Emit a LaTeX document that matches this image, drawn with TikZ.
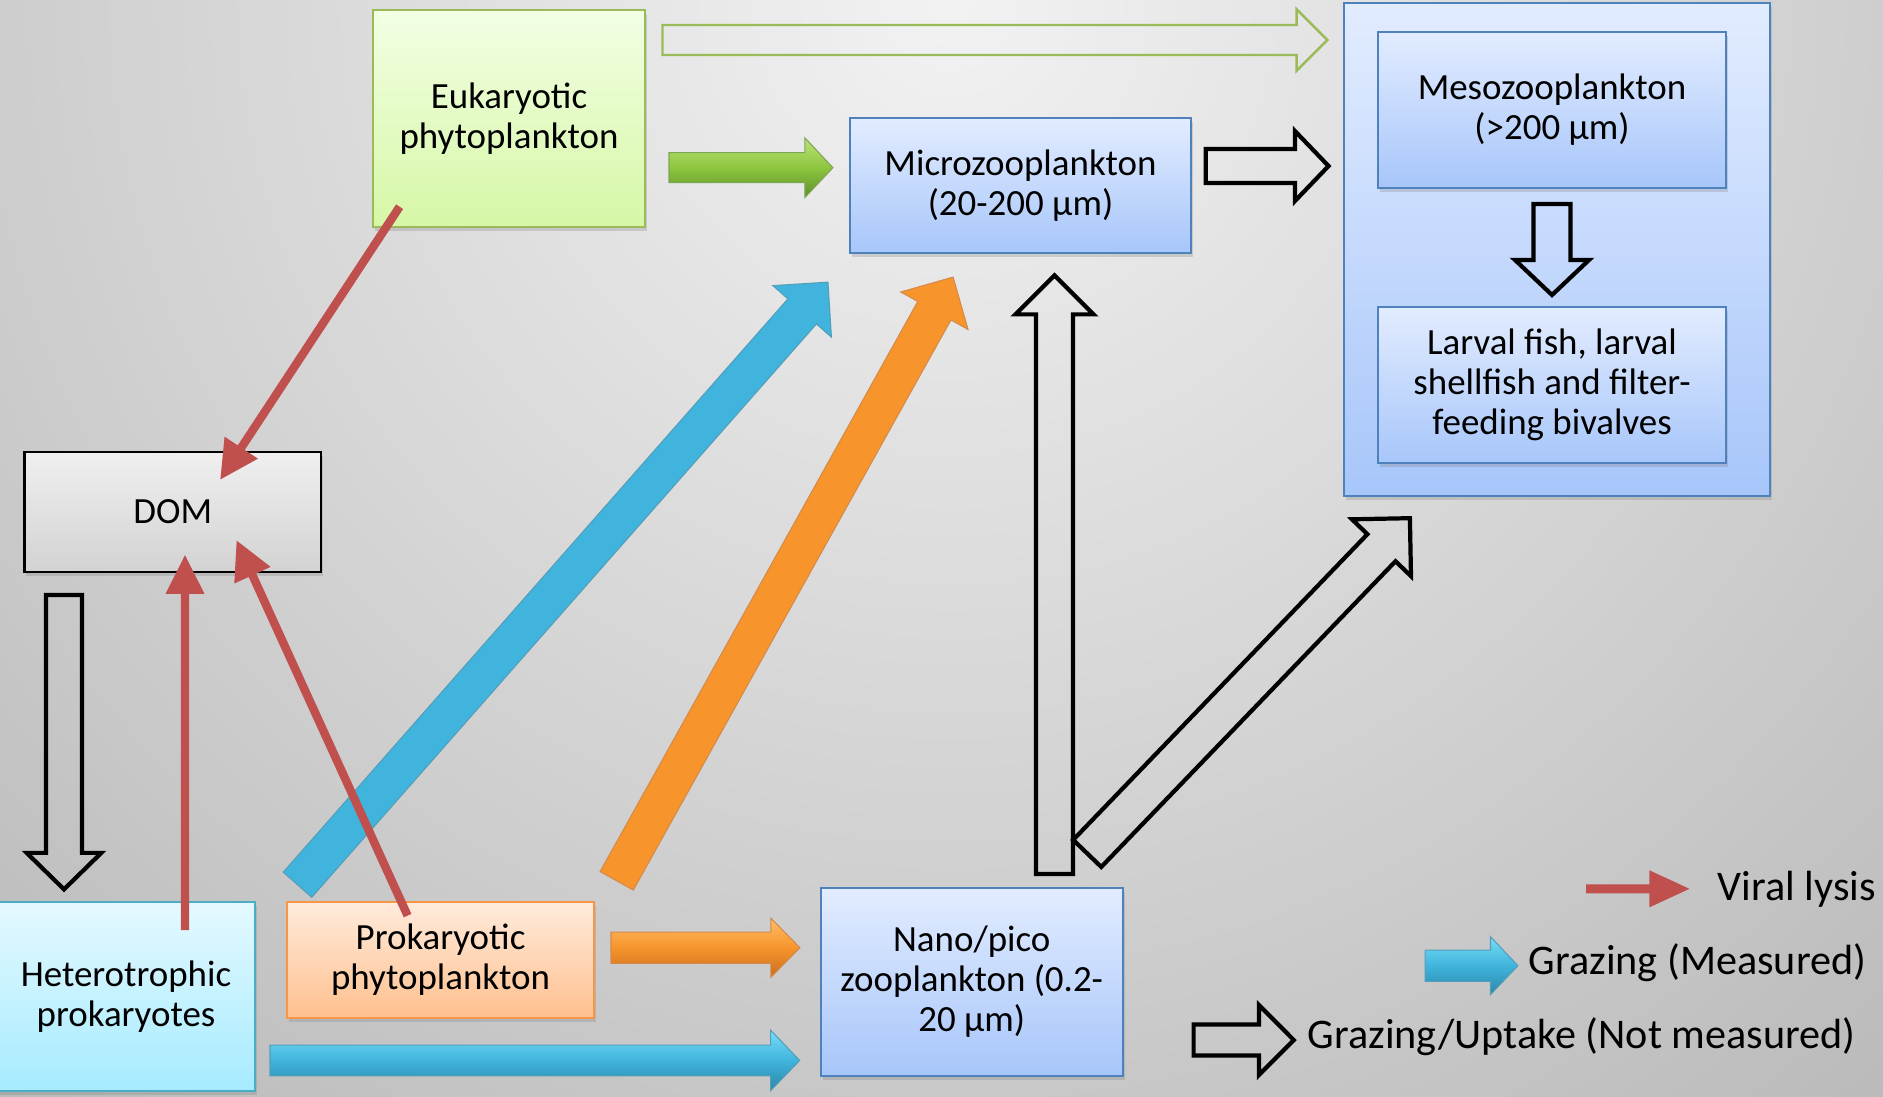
\documentclass[tikz,border=0pt]{standalone}
\usepackage{fontspec}
\setmainfont{Carlito}
\usetikzlibrary{calc,shadows}
\pgfdeclareradialshading{bgshade}{\pgfpoint{0bp}{0bp}}{rgb(0bp)=(.95,.95,.95); rgb(31.7bp)=(.66,.66,.66); rgb(50bp)=(.58,.58,.58)}
\definecolor{redA}{HTML}{C0504D}
\definecolor{blueB}{HTML}{4F81BD}
\definecolor{blueT}{HTML}{E2ECFF}
\definecolor{blueBt}{HTML}{A7C6FA}
\definecolor{greenB}{HTML}{9BBB59}
\definecolor{greenT}{HTML}{F2FFE4}
\definecolor{greenBt}{HTML}{D6F7A6}
\definecolor{greenL}{HTML}{BCE27A}
\definecolor{greenM}{HTML}{8DC63F}
\definecolor{greenD}{HTML}{5E8E2A}
\definecolor{cyanB}{HTML}{4BACC6}
\definecolor{cyanT}{HTML}{E4F9FF}
\definecolor{cyanBt}{HTML}{A6EBFF}
\definecolor{cyanL}{HTML}{78DDF8}
\definecolor{cyanM}{HTML}{40B4DC}
\definecolor{cyanD}{HTML}{2A86A8}
\definecolor{orB}{HTML}{F79646}
\definecolor{orT}{HTML}{FFEBDC}
\definecolor{orBt}{HTML}{FFC08E}
\definecolor{orL}{HTML}{FFBE6A}
\definecolor{orM}{HTML}{F7942C}
\definecolor{orD}{HTML}{C86E1E}
\newcommand\barrow[6][]{%
  \pgfmathanglebetweenpoints{\pgfpointanchor{#2}{center}}{\pgfpointanchor{#3}{center}}%
  \let\baang\pgfmathresult
  \pgfpointdiff{\pgfpointanchor{#2}{center}}{\pgfpointanchor{#3}{center}}%
  \pgfgetlastxy{\badx}{\bady}%
  \pgfmathsetmacro\balen{veclen(\badx,\bady)/0.284528}%
  \begin{scope}[shift={(#2)},rotate=\baang]
    \path[#1] (0,#4) -- ({\balen-#6},#4) -- ({\balen-#6},#5) -- (\balen,0)
      -- ({\balen-#6},-#5) -- ({\balen-#6},-#4) -- (0,-#4) -- cycle;
  \end{scope}}
\begin{document}
\begin{tikzpicture}[x=0.01cm,y=-0.01cm,
  box/.style={draw, line width=0.6pt, align=center, inner sep=0pt,
    font=\fontsize{10.5}{11.4}\selectfont,
    drop shadow={opacity=0.28, shadow xshift=0.02cm, shadow yshift=-0.04cm}},
  bluebox/.style={box, draw=blueB, top color=blueT, bottom color=blueBt},
  greenbox/.style={box, draw=greenB, top color=greenT, bottom color=greenBt},
  greybox/.style={box, draw=black, line width=0.8pt, top color=gray!12, bottom color=gray!35},
  cyanbox/.style={box, draw=cyanB, top color=cyanT, bottom color=cyanBt},
  orbox/.style={box, draw=orB, top color=orT, bottom color=orBt},
  hollowk/.style={draw=black, line width=1.2pt, line join=miter},
  hollowg/.style={draw=greenB, line width=0.7pt, line join=miter},
  solidg/.style={draw=greenD!80, line width=0.3pt, top color=greenL, bottom color=greenD, middle color=greenM},
  solidc/.style={draw=cyanD!80, line width=0.3pt, top color=cyanL, bottom color=cyanD, middle color=cyanM},
  solido/.style={draw=orD!80, line width=0.3pt, top color=orL, bottom color=orD, middle color=orM},
  solidcd/.style={draw=cyanD!80, line width=0.3pt, fill=cyanM},
  solidod/.style={draw=orD!80, line width=0.3pt, fill=orM},
  redarr/.style={fill=redA},
  legend/.style={anchor=west, inner sep=0pt, font=\fontsize{12}{14}\selectfont}]
\useasboundingbox (0,0) rectangle (1883,1096);
% background
\begin{scope}
  \clip (0,0) rectangle (1883,1096);
  \shade[shading=bgshade] (950,0) circle (15cm);
\end{scope}
% boxes
\node[bluebox, minimum width=4.26cm, minimum height=4.93cm] (outer) at (1557,249.5) {};
\node[bluebox, minimum width=3.48cm, minimum height=1.56cm] (meso) at (1552,110) {Mesozooplankton\\(>200 µm)};
\node[bluebox, minimum width=3.48cm, minimum height=1.56cm] (larval) at (1552,385) {Larval fish, larval\\shellfish and filter-\\feeding bivalves};
\node[greenbox, minimum width=2.72cm, minimum height=2.17cm] (euk) at (509,118.5) {Eukaryotic\\phytoplankton};
\node[bluebox, minimum width=3.41cm, minimum height=1.35cm] (micro) at (1020.5,185.5) {Microzooplankton\\(20-200 µm)};
\node[greybox, minimum width=2.965cm, minimum height=1.2cm] (dom) at (172.75,512) {DOM};
\node[cyanbox, minimum width=2.58cm, minimum height=1.89cm] (het) at (126,996.5) {Heterotrophic\\prokaryotes};
\node[orbox, minimum width=3.07cm, minimum height=1.16cm] (prok) at (440.5,960) {Prokaryotic\\phytoplankton};
\node[bluebox, minimum width=3.015cm, minimum height=1.875cm] (nano) at (971.75,981.75) {Nano/pico\\zooplankton (0.2-\\20 µm)};
% arrow end points
\coordinate (a1s) at (662.5,40);    \coordinate (a1e) at (1327.7,40);
\coordinate (a2s) at (669,167.7);   \coordinate (a2e) at (833,167.7);
\coordinate (a3s) at (1205.8,166);  \coordinate (a3e) at (1328.6,166);
\coordinate (a4s) at (1552,204);    \coordinate (a4e) at (1552,295);
\coordinate (a5s) at (64,595);      \coordinate (a5e) at (64,889.5);
\coordinate (a6s) at (1054.5,874);  \coordinate (a6e) at (1054.5,275);
\coordinate (a7s) at (1087.2,853.4); \coordinate (a7e) at (1411,517);
\coordinate (a8s) at (297.5,884.7); \coordinate (a8e) at (828.3,281.7);
\coordinate (a9s) at (616.7,880.8); \coordinate (a9e) at (953.3,276.7);
\coordinate (a10s) at (611,947.7);  \coordinate (a10e) at (800,947.7);
\coordinate (a11s) at (270,1060.4); \coordinate (a11e) at (800,1060.4);
\coordinate (r1s) at (399.6,206.7); \coordinate (r1e) at (220,480);
\coordinate (r2s) at (185,930);     \coordinate (r2e) at (185,555);
\coordinate (r3s) at (407.6,915.6); \coordinate (r3e) at (236.6,540.4);
\coordinate (l1s) at (1586,888.8);  \coordinate (l1e) at (1689.5,888.8);
\coordinate (l2s) at (1425,965.7);  \coordinate (l2e) at (1518,965.7);
\coordinate (l3s) at (1193.6,1040); \coordinate (l3e) at (1293.8,1040);
% block arrows
\barrow[hollowg]{a1s}{a1e}{15}{30.7}{30.7}
\barrow[solidg]{a2s}{a2e}{15}{29.8}{28}
\barrow[hollowk]{a3s}{a3e}{17}{35}{33.6}
\barrow[hollowk]{a4s}{a4e}{18.5}{37}{35}
\barrow[hollowk]{a5s}{a5e}{18}{37.3}{36.5}
\barrow[hollowk]{a6s}{a6e}{18.5}{39}{39}
\barrow[hollowk]{a7s}{a7e}{19.5}{41}{41}
\barrow[solidcd]{a8s}{a8e}{19}{39}{39}
\barrow[solidod]{a9s}{a9e}{19}{38.5}{38.5}
\barrow[solido]{a10s}{a10e}{15.7}{29.5}{29}
\barrow[solidc]{a11s}{a11e}{15.4}{30.2}{29}
% viral lysis arrows
\barrow[redarr]{r1s}{r1e}{4.2}{20}{38}
\barrow[redarr]{r2s}{r2e}{4.2}{19.5}{38.6}
\barrow[redarr]{r3s}{r3e}{4.2}{20}{38}
% legend
\barrow[redarr]{l1s}{l1e}{4.5}{18.5}{40}
\barrow[solidc]{l2s}{l2e}{15.7}{29}{27.5}
\barrow[hollowk]{l3s}{l3e}{15.5}{35}{34.8}
\node[legend] (lv) at (1717,889) {Viral lysis};
\node[legend] (lgm) at (1528,963) {Grazing (Measured)};
\node[legend] (lgu) at (1307,1037) {Grazing/Uptake (Not measured)};
\end{tikzpicture}
\end{document}
